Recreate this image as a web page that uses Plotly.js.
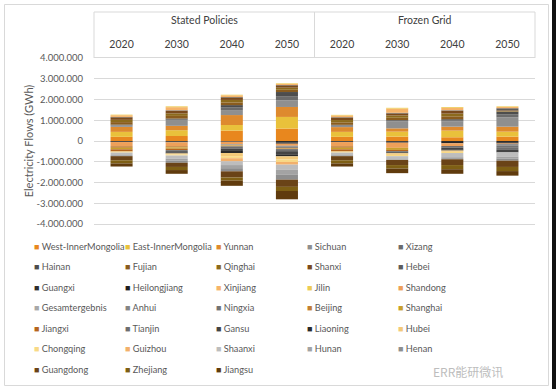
<!DOCTYPE html>
<html><head><meta charset="utf-8">
<script src="https://cdn.plot.ly/plotly-3.0.1.min.js"></script>
<style>html,body{margin:0;padding:0;background:#fff}</style>
</head><body><div id="chart" style="width:556px;height:389px"></div>
<script>
// ---- categories ----
const scenarios = ['Stated Policies','Stated Policies','Stated Policies','Stated Policies','Frozen Grid','Frozen Grid','Frozen Grid','Frozen Grid'];
const years = ['2020','2030','2040','2050','2020','2030','2040','2050'];

// ---- series names (legend order) ----
const provinces = ['West-InnerMongolia','East-InnerMongolia','Yunnan','Sichuan','Xizang','Hainan','Fujian','Qinghai','Shanxi','Hebei','Guangxi','Heilongjiang','Xinjiang','Jilin','Shandong','Gesamtergebnis','Anhui','Ningxia','Beijing','Shanghai','Jiangxi','Tianjin','Gansu','Liaoning','Hubei','Chongqing','Guizhou','Shaanxi','Hunan','Henan','Guangdong','Zhejiang','Jiangsu'];

// ---- values (GWh), SP2020..SP2050, FG2020..FG2050 ----
const WestInnerMongolia = [200000, 240000, 500000, 600000, 200000, 210000, 180000, 210000];
const EastInnerMongolia = [240000, 280000, 270000, 560000, 240000, 240000, 320000, 240000];
const Yunnan = [240000, 210000, 480000, 480000, 230000, 160000, 190000, 240000];
const Sichuan = [60000, 280000, 240000, 320000, 60000, 330000, 250000, 450000];
const Xizang = [30000, 40000, 120000, 200000, 30000, 40000, 60000, 150000];
const Hainan = [20000, 30000, 120000, 200000, 20000, 30000, 50000, 120000];
const Fujian = [120000, 130000, 130000, 110000, 120000, 110000, 140000, 20000];
const Qinghai = [110000, 120000, 120000, 100000, 110000, 110000, 130000, 20000];
const Shanxi = [120000, 120000, 120000, 110000, 120000, 100000, 130000, 30000];
const Hebei = [20000, 30000, 20000, 20000, 20000, 30000, 30000, 100000];
const Guangxi = [-20000, -30000, -20000, -80000, -20000, -40000, -50000, -60000];
const Heilongjiang = [-30000, -30000, -20000, -50000, -30000, -40000, -60000, -60000];
const Xinjiang = [80000, 150000, 80000, 50000, 80000, 200000, 120000, 60000];
const Jilin = [30000, 40000, 30000, 30000, 30000, 40000, 40000, 30000];
const Shandong = [-200000, -190000, -120000, -100000, -200000, -250000, -130000, -30000];
const Gesamtergebnis = [0, 0, 0, 0, 0, 0, 0, 0];
const Anhui = [0, 0, -20000, -40000, 0, 0, 0, -80000];
const Ningxia = [0, 0, -20000, -60000, 0, 0, 0, -100000];
const Beijing = [-80000, -60000, -20000, -20000, -80000, 0, 0, 0];
const Shanghai = [-70000, -60000, -20000, -20000, -70000, -100000, 0, 0];
const Jiangxi = [-100000, -70000, -20000, -20000, -100000, -60000, 0, 0];
const Tianjin = [0, -50000, -100000, -100000, 0, -50000, -80000, -100000];
const Gansu = [0, -60000, -120000, -150000, 0, -50000, -80000, -120000];
const Liaoning = [0, -50000, -100000, -100000, 0, 0, -60000, 0];
const Hubei = [-30000, -50000, -150000, -150000, -30000, -80000, -60000, 0];
const Chongqing = [-30000, -50000, -100000, -120000, -30000, -60000, -60000, 0];
const Guizhou = [0, 0, -150000, -130000, 0, 0, 0, 0];
const Shaanxi = [-120000, -150000, -180000, -250000, -120000, -180000, -200000, -200000];
const Hunan = [-50000, -100000, -150000, -220000, -50000, 0, -100000, -100000];
const Henan = [0, -100000, -150000, -250000, 0, 0, 0, -100000];
const Guangdong = [-200000, -200000, -300000, -350000, -200000, -250000, -280000, -300000];
const Zhejiang = [-150000, -150000, -150000, -200000, -150000, -170000, -200000, -200000];
const Jiangsu = [-150000, -180000, -250000, -400000, -150000, -220000, -220000, -220000];

const seriesValues = [WestInnerMongolia, EastInnerMongolia, Yunnan, Sichuan, Xizang, Hainan, Fujian, Qinghai, Shanxi, Hebei, Guangxi, Heilongjiang, Xinjiang, Jilin, Shandong, Gesamtergebnis, Anhui, Ningxia, Beijing, Shanghai, Jiangxi, Tianjin, Gansu, Liaoning, Hubei, Chongqing, Guizhou, Shaanxi, Hunan, Henan, Guangdong, Zhejiang, Jiangsu];

// ---- y tick labels ----
const yTickVals = [4000000, 3000000, 2000000, 1000000, 0, -1000000, -2000000, -3000000, -4000000];
const yTickText = ['4.000.000', '3.000.000', '2.000.000', '1.000.000', '0', '-1.000.000', '-2.000.000', '-3.000.000', '-4.000.000'];

// ---- styles ----
const seriesColors = ['#E8871E','#E9C13B','#DE8A2E','#8F8F8F','#6B6B6B','#4D4D4D','#8A5C1E','#8C6A1C','#7B4A1C','#5C5C5C','#2E2E2E','#1E1E1E','#F6B46A','#EDCB55','#EDA05A','#A8A8A8','#858585','#737373','#C27F33','#C9A02C','#B5651D','#6E6E6E','#444444','#2A2A2A','#F3C979','#F8D986','#F2B06B','#BDBDBD','#A3A3A3','#8E8E8E','#6A4317','#7E5F14','#603B0D'];

const FONT = 'Lato, "Liberation Sans", sans-serif';
const catIndex = years.map((_, i) => i);

// stacked bars (legend drawn by companion entries below)
const barTraces = provinces.map((name, i) => ({
  type: 'bar',
  name: name,
  legendgroup: name,
  showlegend: false,
  x: catIndex,
  y: seriesValues[i],
  marker: {color: seriesColors[i], line: {width: 0}},
  hoverinfo: 'skip'
}));
// legend entries: coloured square glyph + name (plotly's own symbol kept transparent)
const legendTraces = provinces.map((name, i) => ({
  type: 'scatter', mode: 'markers',
  x: [null], y: [null],
  legendgroup: name,
  showlegend: true,
  name: '<span style="font-size:9px;color:' + seriesColors[i] + '">■</span><span style="font-size:9.2px">\u00a0' + name + '</span>',
  marker: {color: 'rgba(0,0,0,0)', size: 1},
  hoverinfo: 'skip'
}));

// group header labels from the scenarios array
const groups = [...new Set(scenarios)];
const groupAnnotations = groups.map(g => {
  const idx = catIndex.filter(i => scenarios[i] === g);
  const center = idx.reduce((a, b) => a + b, 0) / idx.length;
  return {xref: 'x', yref: 'paper', x: center, y: 0, text: g, showarrow: false,
          xanchor: 'center', yanchor: 'middle', font: {size: 10.5, color: '#404040', family: FONT}};
});

// pixel helpers for decorative frame
const L = 94, T = 58, W = 441, H = 166;
const px = v => (v - L) / W;
const py = v => (T + H - v) / H;
groupAnnotations.forEach(a => { a.y = py(19.5); });
const lineCol = '#d9d9d9';

const layout = {
  width: 556, height: 389,
  margin: {l: L, r: 556 - L - W, t: T, b: 389 - T - H, pad: 0, autoexpand: false},
  paper_bgcolor: '#fff', plot_bgcolor: '#fff',
  font: {family: FONT, color: '#595959'},
  barmode: 'relative',
  bargap: 0.6,
  showlegend: true,
  xaxis: {
    range: [-0.5, 7.5], side: 'top',
    tickvals: catIndex, ticktext: years,
    tickfont: {size: 10.5, color: '#404040'},
    ticklabelstandoff: 5,
    showgrid: false, zeroline: false, showline: true, mirror: true, linecolor: lineCol, linewidth: 1,
    ticks: '', fixedrange: true
  },
  yaxis: {
    range: [-4000000, 4000000],
    tickvals: yTickVals, ticktext: yTickText,
    tickfont: {size: 9.5, color: '#595959'},
    gridcolor: lineCol, gridwidth: 1, zeroline: false,
    ticklabelstandoff: 10,
    title: {text: 'Electricity Flows (GWh)', font: {size: 11, color: '#595959'}, standoff: 0},
    fixedrange: true
  },
  legend: {
    orientation: 'h', traceorder: 'normal',
    x: px(-6), xanchor: 'left', y: py(229), yanchor: 'top',
    entrywidth: 46, entrywidthmode: 'pixels',
    itemwidth: 30, font: {size: 13.5, color: '#595959', family: FONT},
    bgcolor: 'rgba(0,0,0,0)', borderwidth: 0
  },
  shapes: [
    {type: 'rect', xref: 'paper', yref: 'paper', x0: px(4.5), x1: px(548.5), y0: py(385.5), y1: py(4.5), line: {color: lineCol, width: 1}},
    {type: 'line', xref: 'paper', yref: 'paper', x0: 0, x1: 1, y0: py(12), y1: py(12), line: {color: lineCol, width: 1}},
    {type: 'line', xref: 'paper', yref: 'paper', x0: 0, x1: 0, y0: 1, y1: py(12), line: {color: lineCol, width: 1}},
    {type: 'line', xref: 'paper', yref: 'paper', x0: 0.5, x1: 0.5, y0: 1, y1: py(12), line: {color: lineCol, width: 1}},
    {type: 'line', xref: 'paper', yref: 'paper', x0: 1, x1: 1, y0: 1, y1: py(12), line: {color: lineCol, width: 1}},
    {type: 'rect', xref: 'paper', yref: 'paper', x0: px(552), x1: px(556), y0: py(389), y1: py(0), line: {width: 0}, fillcolor: '#111'}
  ],
  annotations: groupAnnotations.concat([
    {xref: 'paper', yref: 'paper', x: px(505), y: py(371), xanchor: 'right', yanchor: 'middle', showarrow: false,
     text: 'ERR能研微讯', font: {family: '"Noto Sans CJK SC", sans-serif', size: 12, color: '#bdbdbd'}}
  ])
};

Plotly.newPlot('chart', barTraces.concat(legendTraces), layout, {displayModeBar: false, staticPlot: true});
</script>
</body></html>
